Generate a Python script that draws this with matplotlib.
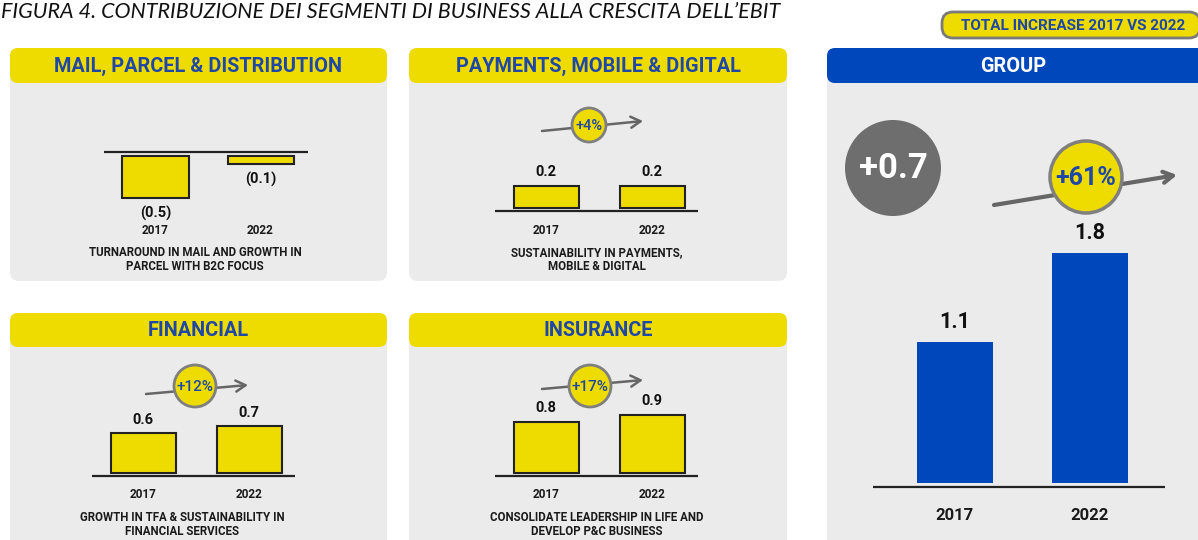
import matplotlib
matplotlib.use("Agg")
import matplotlib.pyplot as plt
from matplotlib.patches import FancyBboxPatch, Circle
from matplotlib.transforms import blended_transform_factory

# ---------------- data ----------------
years = ["2017", "2022"]
mail_values = [-0.5, -0.1]
payments_values = [0.2, 0.2]
financial_values = [0.6, 0.7]
insurance_values = [0.8, 0.9]
group_values = [1.1, 1.8]

panel_titles = ["MAIL, PARCEL & DISTRIBUTION", "PAYMENTS, MOBILE & DIGITAL",
                "FINANCIAL", "INSURANCE", "GROUP"]
panel_subtitles = ["TURNAROUND IN MAIL AND GROWTH IN\nPARCEL WITH B2C FOCUS",
                   "SUSTAINABILITY IN PAYMENTS,\nMOBILE & DIGITAL",
                   "GROWTH IN TFA & SUSTAINABILITY IN\nFINANCIAL SERVICES",
                   "CONSOLIDATE LEADERSHIP IN LIFE AND\nDEVELOP P&C BUSINESS"]
growth_labels = ["+4%", "+12%", "+17%", "+61%"]
group_increase = "+0.7"
figure_title = "FIGURA 4. CONTRIBUZIONE DEI SEGMENTI DI BUSINESS ALLA CRESCITA DELL\u2019EBIT"
badge_text = "TOTAL INCREASE 2017 VS 2022"

# ---------------- style ----------------
W, H = 1198, 540
YELLOW = "#EEDC00"
BLUE = "#0047BB"
TITLE_BLUE = "#1F48A6"
BODY = "#EBEBEB"
DARK = "#222222"
ARROW_GREY = "#666666"
FONT = ["Roboto", "DejaVu Sans"]

plt.rcParams["font.family"] = FONT
fig = plt.figure(figsize=(W / 100, H / 100), dpi=100)
fig.patch.set_facecolor("white")
ax0 = fig.add_axes([0, 0, 1, 1])
ax0.set_xlim(0, W)
ax0.set_ylim(H, 0)
ax0.axis("off")


def rbox(x0, y0, x1, y1, color, r=8, ec="none", lw=0, z=1):
    p = FancyBboxPatch((x0 + r, y0 + r), (x1 - x0) - 2 * r, (y1 - y0) - 2 * r,
                       boxstyle=f"round,pad={r},rounding_size={r}",
                       fc=color, ec=ec, lw=lw, zorder=z)
    ax0.add_patch(p)


# title & badge
ax0.text(1, 18, figure_title, fontsize=15.5, style="italic", family=["Lato", "DejaVu Sans"],
         color="#111111", ha="left", va="baseline")
rbox(942, 12, 1200, 38, YELLOW, r=11, ec="#7a7a7a", lw=2, z=2)
ax0.text(1073, 25.5, badge_text, fontsize=11, fontweight="bold", color=TITLE_BLUE,
         ha="center", va="center", zorder=3)

# panels: (x0, y0, x1, y1, header bottom)
panels = [(10, 48, 387, 281, 83), (409, 48, 787, 281, 83),
          (10, 313, 387, 548, 347), (409, 313, 787, 548, 347),
          (827, 48, 1206, 548, 83)]
for i, (x0, y0, x1, y1, hb) in enumerate(panels):
    rbox(x0, y0, x1, y1, BODY, r=9, z=1)
    hc = BLUE if i == 4 else YELLOW
    rbox(x0, y0, x1, hb, hc, r=8, z=2)
    ax0.text((x0 + min(x1, W)) / 2 if i < 4 else 1013, (y0 + hb) / 2 + 1, panel_titles[i],
             fontsize=14.3, fontweight="bold",
             color="white" if i == 4 else TITLE_BLUE, ha="center", va="center", zorder=3)


def bar_panel(values, L, R, c0, c1, zero_px, scale, line_px, barw_px,
              color, ec, lw, year_y, lab_off, lab_size, year_size):
    T, B = 90, 535
    ax = fig.add_axes([L / W, 1 - B / H, (R - L) / W, (B - T) / H])
    d = c1 - c0
    ax.set_xlim((L - c0) / d, (R - c0) / d)
    ax.set_ylim((zero_px - B) / scale, (zero_px - T) / scale)
    ax.axis("off")
    ax.patch.set_alpha(0)
    x = list(range(len(values)))
    ax.bar(x, values, width=barw_px / d, color=color, edgecolor=ec, linewidth=lw, zorder=3)
    ax.axhline((zero_px - line_px) / scale, 0, 1, color=DARK, lw=1.6, zorder=2)
    for xi, v in zip(x, values):
        txt = f"({abs(v):.1f})" if v < 0 else f"{v:.1f}"
        off = -lab_off if v < 0 else lab_off
        ax.annotate(txt, (xi, v), xytext=(0, off), textcoords="offset pixels",
                    ha="center", va="center", fontsize=lab_size, fontweight="bold",
                    color="#111111", annotation_clip=False)
    tr = blended_transform_factory(ax.transData, ax0.transData)
    for xi, yr in zip(x, years):
        ax.text(xi, year_y, yr, transform=tr, ha="center", va="center",
                fontsize=year_size, fontweight="bold", color="#1a1a1a", clip_on=False)
    return ax


bar_panel(mail_values, 104, 308, 155.5, 260.5, 156, 84, 152, 66,
          YELLOW, DARK, 1.5, 231, 15, 10.5, 8.5)
bar_panel(payments_values, 495, 698, 546, 652, 208, 110, 211, 65,
          YELLOW, DARK, 1.5, 231, 14, 10.5, 8.5)
bar_panel(financial_values, 92, 295, 143, 249, 473, 67, 476, 65,
          YELLOW, DARK, 1.5, 495, 13, 10.5, 8.5)
bar_panel(insurance_values, 495, 698, 546, 652, 473, 64, 476, 65,
          YELLOW, DARK, 1.5, 495, 14, 10.5, 8.5)
bar_panel(group_values, 873, 1165, 955, 1089.5, 483, 128, 487, 76,
          BLUE, "none", 0, 515, 20, 15.5, 12)

# subtitles
sub_pos = [(195, 259.5), (597, 259.5), (182, 524.5), (597, 524.5)]
for (sx, sy), s in zip(sub_pos, panel_subtitles):
    ax0.text(sx, sy, s, ha="center", va="center", fontsize=8.3, fontweight="bold",
             color="#1a1a1a", linespacing=1.1, zorder=4)

# growth arrows & badges: (start, end, circle centre, radius, font, lw)
growth_geo = [((542, 131), (643, 121), (589, 125), 17, 10.5, 1.8),
              ((146, 394), (248, 385), (195, 386), 21, 11, 1.8),
              ((542, 389), (643, 380), (590, 386), 21, 11, 1.8),
              ((994, 205), (1177, 175), (1086, 177), 36, 18, 3)]
for (s, e, c, r, fs, lw), lab in zip(growth_geo, growth_labels):
    ax0.annotate("", xy=e, xytext=s,
                 arrowprops=dict(arrowstyle="->,head_length=0.7,head_width=0.4",
                                 color=ARROW_GREY, lw=lw, shrinkA=0, shrinkB=0), zorder=5)
    ax0.add_patch(Circle(c, r, fc=YELLOW, ec="#7f7f7f", lw=2 if r < 30 else 2.5, zorder=6))
    ax0.text(c[0], c[1] + 1, lab, ha="center", va="center", fontsize=fs,
             color=TITLE_BLUE, zorder=7, fontweight="bold" if r > 30 else "medium")

# group increase bubble
ax0.add_patch(Circle((893, 168), 48, fc="#6E6E6E", ec="none", zorder=6))
ax0.text(893, 169, group_increase, ha="center", va="center", fontsize=25,
         fontweight="bold", color="white", zorder=7)

fig.savefig("out.png", dpi=100, facecolor="white")
